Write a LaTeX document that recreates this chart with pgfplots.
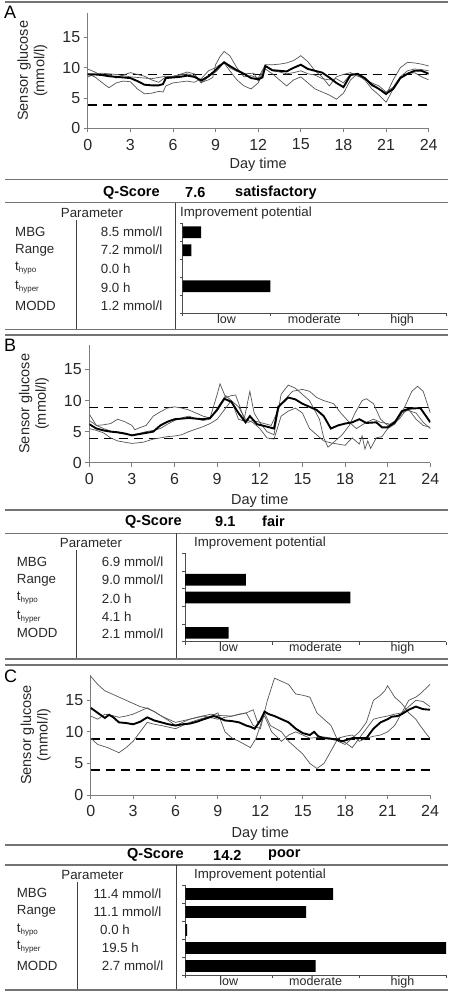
\documentclass[border=0pt]{standalone}
\usepackage{fontspec}
\setmainfont{Liberation Sans}
\usepackage{pgfplots}
\pgfplotsset{compat=1.18}
\definecolor{sepgray}{RGB}{115,115,115}
\definecolor{axgray}{RGB}{125,125,125}
\definecolor{linegray}{RGB}{85,85,85}
\definecolor{txt}{RGB}{40,40,40}
\pgfplotsset{
  glucose/.style={
    scale only axis, width=341pt,
    xmin=0, xmax=24, ymin=0, ymax=19,
    xtick={0,3,...,24}, ytick={0,5,10,15},
    axis x line*=bottom, axis y line*=left,
    axis line style={axgray, line width=0.9pt},
    tick style={axgray, line width=0.9pt},
    tick align=outside, major tick length=4pt,
    ticklabel style={font=\fontsize{16}{19}\selectfont, text=txt},
    xticklabel style={yshift=-3pt},
    /pgf/number format/assume math mode=true,
    xlabel={Day time}, ylabel={Sensor glucose\\(mmol/l)},
    label style={font=\fontsize{14.5}{16.5}\selectfont, text=txt},
    xlabel style={at={(axis description cs:0.5,-0.32)}, anchor=center},
    ylabel style={at={(axis description cs:-0.108,0.5)}, anchor=south, align=center},
  },
  thin/.style={linegray, line width=0.7pt},
  mean/.style={black, line width=1.9pt},
  lim/.style={black, line width=1.8pt, dash pattern=on 9pt off 6pt},
  qbar/.style={
    scale only axis,
    xmin=0, xmax=3, ymin=0, ymax=5,
    axis x line*=bottom, axis y line*=left,
    axis line style={black!70, line width=0.7pt},
    tick style={black!70, line width=0.7pt},
    tick align=outside, major tick length=3pt,
    xtick={0,1,2,3}, xticklabels={},
    ytick={0,1,2,3,4,5}, yticklabels={},
    extra x ticks={0.5,1.5,2.5},
    extra x tick labels={low,moderate,high},
    extra x tick style={major tick length=0pt, tick style={draw=none},
      xticklabel style={font=\fontsize{12.5}{14}\selectfont, text=txt, inner sep=1pt}},
  },
  hb/.style={xbar, fill=black, draw=none, bar width=11.7pt},
}
\newcommand\tsub[1]{t\raisebox{-2.2pt}{\fontsize{8}{9}\selectfont #1}}
\begin{document}
\begin{tikzpicture}[x=1pt,y=1pt,
  tb/.style={font=\fontsize{13.3}{15}\selectfont, text=txt, anchor=west, inner sep=0pt},
  qs/.style={font=\fontsize{14.5}{17}\selectfont\bfseries, text=black, anchor=west, inner sep=0pt},
  let/.style={font=\fontsize{18}{20}\selectfont, text=black, anchor=west, inner sep=0pt},
  sep/.style={sepgray, line width=1.5pt},
  vsep/.style={black!75, line width=0.8pt}]
\useasboundingbox (0,0) rectangle (450,-992);

% ================= Panel A =================
\draw[sep] (5,-2) -- (448,-2);
\node[let] at (4,-12.5) {A};
\begin{axis}[glucose, height=115pt, at={(87.7pt,-128.3pt)}, anchor=south west]
\addplot[lim] coordinates {(0,8.9)(24,8.9)};
\addplot[lim] coordinates {(0,3.9)(24,3.9)};
\addplot[thin] coordinates {(0,9.8)(0.5,9.3)(1,8.7)(1.5,8.9)(2,8.3)(2.5,8.8)(3,9.2)(3.5,8.9)(4,8.6)(4.5,8.0)(5,7.6)(5.5,8.5)(6,8.6)(6.5,8.9)(7,9.3)(7.5,9.0)(8,7.6)(8.5,8.0)(8.8,8.4)(9,10.5)(9.3,11.8)(9.6,12.7)(10,12.0)(10.5,10.0)(11,8.5)(11.5,8.7)(12,8.3)(12.5,10.5)(13,10.5)(13.5,10.6)(14,10.8)(14.5,11.2)(15,12.0)(15.5,11.0)(16,9.5)(16.5,8.5)(17,7.0)(17.5,8.5)(18,8.9)(18.5,9.2)(19,8.6)(19.5,8.2)(20,7.0)(20.5,6.5)(21,5.5)(21.5,8.0)(22,10.0)(22.5,10.9)(23,10.8)(23.5,10.6)(24,10.3)};
\addplot[thin] coordinates {(0,9.0)(0.5,8.5)(1.2,7.2)(1.5,6.7)(2,7.5)(2.5,7.8)(3,7.7)(3.5,6.5)(4,5.7)(4.5,5.8)(5,6.1)(5.3,6.0)(5.5,7.0)(6,7.5)(7,7.8)(7.5,7.6)(8,8.2)(8.5,9.5)(9,10.0)(9.3,10.5)(9.6,10.8)(10,9.5)(10.5,8.0)(11,7.0)(11.5,6.5)(12,7.5)(12.5,9.8)(13,9.0)(13.5,8.0)(14,7.0)(14.5,8.0)(15,8.5)(15.5,7.5)(16,6.5)(16.5,6.0)(17,5.5)(17.5,4.8)(18,5.8)(18.5,8.0)(19,9.0)(19.5,8.0)(20,6.5)(20.5,5.5)(21,4.3)(21.5,6.5)(22,8.2)(22.5,9.0)(23,9.2)(23.5,8.5)(24,8.0)};
\addplot[thin] coordinates {(0,8.5)(0.5,8.9)(1,9.1)(1.5,9.0)(2,8.9)(2.5,8.7)(3,8.5)(3.5,8.4)(4,8.3)(4.5,8.2)(5,8.4)(5.5,8.6)(6,8.5)(6.5,8.8)(7,9.0)(7.5,8.7)(8,7.5)(8.5,8.5)(9,9.3)(9.3,10.0)(9.6,11.0)(10,10.0)(10.5,9.4)(11,9.0)(11.7,9.1)(12,7.8)(12.5,10.3)(13,9.5)(13.5,9.3)(14,9.0)(14.5,9.2)(15,9.5)(15.5,9.0)(16,8.8)(16.5,8.2)(17,8.0)(17.5,8.2)(18,7.5)(18.5,9.0)(19,8.8)(19.5,8.0)(20,7.5)(20.5,7.0)(21,6.0)(21.5,6.8)(22,8.5)(22.5,9.5)(23,9.8)(23.5,9.7)(24,9.5)};
\addplot[mean] coordinates {(0,8.9)(0.5,8.9)(1,8.8)(1.5,8.6)(2,8.5)(2.5,8.4)(3,8.3)(3.5,7.8)(4,7.2)(4.5,7.1)(5,7.1)(5.3,7.3)(5.5,8.3)(6,8.4)(6.5,8.5)(7,8.7)(7.5,8.5)(8,7.9)(8.5,8.6)(9,9.6)(9.3,10.3)(9.6,10.9)(10,10.3)(10.5,9.6)(11,9.0)(11.5,8.3)(12,8.1)(12.3,8.4)(12.5,10.3)(13,9.6)(13.5,9.5)(14,9.4)(14.5,10.0)(15,10.5)(15.5,9.8)(16,9.5)(16.5,9.2)(17,8.4)(17.5,7.5)(18,6.8)(18.5,8.8)(19,9.0)(19.5,8.3)(20,7.2)(20.5,6.5)(21,5.7)(21.5,6.5)(22,8.3)(22.5,9.0)(23,9.5)(23.5,9.5)(24,9.0)};
\end{axis}
\draw[sep] (5,-179.3) -- (448,-179.3);
\node[qs] at (103,-192.7) {Q-Score};
\node[qs] at (185,-192.7) {7.6};
\node[qs] at (235,-192.7) {satisfactory};
\draw[sep] (5,-202.7) -- (448,-202.7);
\node[tb, anchor=center] at (92,-213.3) {Parameter};
\node[tb] at (180,-213.3) {Improvement potential};
\draw[vsep] (175.7,-202.7) -- (175.7,-329.3);
\draw[vsep] (76,-220) -- (76,-329.3);
\node[tb] at (15,-231.7) {MBG};
\node[tb] at (15,-250) {Range};
\node[tb] at (15,-268.3) {\tsub{hypo}};
\node[tb] at (15,-287.3) {\tsub{hyper}};
\node[tb] at (15,-306) {MODD};
\node[tb] at (100.7,-231.7) {8.5 mmol/l};
\node[tb] at (100.7,-250) {7.2 mmol/l};
\node[tb] at (100.7,-268.3) {0.0 h};
\node[tb] at (100.7,-287.3) {9.0 h};
\node[tb] at (100.7,-306) {1.2 mmol/l};
\begin{axis}[qbar, width=263.3pt, height=90pt, at={(182.7pt,-313.3pt)}, anchor=south west]
\addplot[hb] coordinates {(0.21,4.5)(0.10,3.5)(1.0,1.5)};
\end{axis}
\draw[sep] (5,-329.3) -- (448,-329.3);

% ================= Panel B =================
\draw[sep] (5,-335) -- (448,-335);
\node[let] at (4,-345.5) {B};
\begin{axis}[glucose, height=118pt, at={(89.3pt,-462.7pt)}, anchor=south west]
\addplot[lim] coordinates {(0,8.9)(24,8.9)};
\addplot[lim] coordinates {(0,3.9)(24,3.9)};
\addplot[thin] coordinates {(0,7.8)(0.5,6.0)(1,6.1)(1.5,6.3)(2,7.0)(2.5,6.6)(3,6.0)(3.2,5.3)(3.5,5.6)(4,6.0)(4.5,7.5)(5,8.2)(5.5,8.8)(6,9.0)(6.5,8.8)(7,8.5)(7.5,8.0)(8,7.5)(8.5,7.2)(9,11.0)(9.2,12.7)(9.6,10.5)(10,10.8)(10.3,10.9)(10.6,9.0)(10.9,7.0)(11.3,11.5)(11.6,8.0)(12,6.5)(12.5,5.0)(13,4.5)(13.5,11.0)(14,12.5)(14.5,12.0)(15,11.0)(15.5,10.0)(16.2,7.0)(16.5,4.0)(16.8,2.5)(17.3,3.5)(17.8,4.5)(18.3,6.0)(18.7,8.0)(19.2,10.0)(19.5,10.3)(20,9.5)(20.5,7.0)(21,6.0)(21.7,7.0)(22.2,9.0)(22.7,11.5)(23.1,12.3)(23.5,11.5)(24,8.0)};
\addplot[thin] coordinates {(0,5.5)(0.5,5.2)(1,4.8)(1.5,4.0)(2,3.5)(2.5,3.3)(3,3.1)(3.8,3.3)(4.5,3.8)(5,4.0)(5.5,4.2)(6,4.3)(6.5,4.5)(7,5.0)(7.5,5.4)(8,5.8)(8.5,6.3)(9,7.0)(9.5,8.5)(10,10.0)(10.5,9.0)(11,7.0)(11.5,6.5)(12,5.5)(12.5,4.0)(13,3.8)(13.5,7.5)(14,8.3)(14.5,8.8)(15,8.0)(15.5,5.5)(16,4.5)(16.5,3.5)(17,3.2)(17.5,3.0)(18,2.8)(18.5,4.0)(19,3.0)(19.2,4.3)(19.4,2.2)(19.6,3.5)(19.8,2.3)(20.2,4.0)(20.6,4.2)(21,5.5)(21.5,6.2)(22,8.0)(22.5,8.5)(23,7.0)(23.5,6.0)(24,5.7)};
\addplot[thin] coordinates {(0,6.8)(0.5,6.0)(1,5.5)(1.5,5.1)(2,4.8)(2.5,4.6)(3,4.5)(3.5,4.7)(4,5.0)(4.5,5.2)(5,5.5)(5.5,6.2)(6,6.8)(6.5,7.2)(7,7.5)(7.5,7.1)(8,6.8)(8.5,7.0)(9.2,9.5)(9.6,10.8)(10,10.0)(10.5,7.0)(11.2,6.5)(11.5,6.8)(12,6.5)(12.8,6.0)(13.5,9.5)(14.3,11.5)(15,11.8)(15.5,11.5)(16,10.5)(16.5,10.0)(17.2,9.5)(17.7,8.0)(18.3,6.5)(18.8,5.5)(19.5,6.5)(20,7.0)(20.5,6.5)(21,6.3)(21.3,6.0)(21.8,7.0)(22.3,8.5)(23,8.0)(23.5,6.5)(24,5.5)};
\addplot[mean] coordinates {(0,6.2)(0.5,5.5)(1,5.2)(1.5,5.0)(2,4.9)(2.5,4.7)(3,4.4)(3.5,4.6)(4,4.8)(4.5,5.0)(5,6.0)(5.5,6.6)(6,7.0)(6.5,7.1)(7,7.2)(7.5,7.1)(8,7.0)(8.5,7.2)(9,8.5)(9.5,10.3)(10,9.8)(10.5,8.0)(11,6.5)(11.3,7.5)(11.8,6.2)(12.5,5.8)(13,5.5)(13.3,9.0)(14,10.5)(14.5,10.2)(15,9.5)(15.5,9.0)(16,8.5)(16.5,7.5)(17,5.5)(17.5,6.0)(18,6.3)(18.5,6.5)(19,7.0)(19.5,6.4)(20.2,6.5)(20.6,5.7)(21,5.7)(21.5,6.5)(22,8.3)(22.5,8.7)(23.3,8.8)(23.7,7.5)(24,6.5)};
\end{axis}
\draw[sep] (5,-510) -- (448,-510);
\node[qs] at (125,-521.7) {Q-Score};
\node[qs] at (215,-521.7) {9.1};
\node[qs] at (262,-521.7) {fair};
\draw[sep] (5,-533.3) -- (448,-533.3);
\node[tb, anchor=center] at (91,-543.3) {Parameter};
\node[tb] at (194,-543.3) {Improvement potential};
\draw[vsep] (176.7,-533.3) -- (176.7,-659);
\draw[vsep] (76.7,-550) -- (76.7,-659);
\node[tb] at (16.7,-561.7) {MBG};
\node[tb] at (16.7,-580) {Range};
\node[tb] at (16.7,-598.3) {\tsub{hypo}};
\node[tb] at (16.7,-616.7) {\tsub{hyper}};
\node[tb] at (16.7,-633.3) {MODD};
\node[tb] at (101.7,-561.7) {6.9 mmol/l};
\node[tb] at (101.7,-580) {9.0 mmol/l};
\node[tb] at (101.7,-598.3) {2.0 h};
\node[tb] at (101.7,-616.7) {4.1 h};
\node[tb] at (101.7,-633.3) {2.1 mmol/l};
\begin{axis}[qbar, width=261pt, height=88.4pt, at={(185pt,-641.7pt)}, anchor=south west]
\addplot[hb] coordinates {(0.70,3.5)(1.90,2.5)(0.50,0.5)};
\end{axis}
\draw[sep] (5,-659) -- (448,-659);

% ================= Panel C =================
\draw[sep] (5,-665) -- (448,-665);
\node[let] at (4,-676.5) {C};
\begin{axis}[glucose, height=120pt, at={(90.7pt,-795pt)}, anchor=south west, width=339.3pt]
\addplot[lim] coordinates {(0,8.9)(24,8.9)};
\addplot[lim] coordinates {(0,3.9)(24,3.9)};
\addplot[thin] coordinates {(0,18.8)(0.5,17.5)(1,16.5)(1.5,16.0)(2,15.5)(2.5,15.0)(3,14.5)(3.5,14.0)(4,13.7)(4.5,13.2)(5,12.5)(5.5,12.0)(6,11.5)(7,12.0)(7.5,12.3)(8.5,12.8)(9,12.6)(10,12.5)(10.5,12.8)(11,13.0)(11.5,11.0)(12,10.5)(12.5,15.0)(13,18.5)(13.5,18.0)(14,17.5)(14.5,16.0)(15,15.8)(15.5,15.5)(16,13.0)(16.5,12.0)(17,11.0)(17.5,8.5)(18,8.0)(18.5,9.0)(19,10.0)(19.5,11.5)(20,15.0)(20.5,15.8)(20.8,16.5)(21,17.3)(21.5,15.5)(22,14.5)(22.5,13.0)(23,12.0)(23.3,11.0)(23.8,9.5)(24,9.0)};
\addplot[thin] coordinates {(0,9.0)(0.5,8.0)(1.2,7.5)(2,6.7)(2.5,7.5)(3,8.5)(3.5,10.0)(4,11.5)(4.5,11.2)(5,11.0)(6,10.5)(6.5,11.0)(7,11.5)(8,12.2)(8.5,12.5)(9,13.0)(9.5,10.0)(10,9.0)(10.5,8.5)(11.3,7.5)(11.7,9.0)(12.3,13.0)(12.7,11.0)(13.5,10.0)(14,8.5)(14.5,7.5)(15,6.5)(15.5,5.0)(16,4.2)(16.5,5.0)(17,7.0)(17.5,9.0)(18,9.3)(18.5,9.5)(19,8.5)(19.5,9.0)(20,9.3)(20.5,9.5)(21,10.0)(21.5,11.0)(22,13.0)(22.5,15.0)(23,15.5)(23.3,16.0)(24,17.5)};
\addplot[thin] coordinates {(0,12.5)(0.5,12.0)(1,12.8)(1.5,12.6)(2,12.3)(2.5,12.5)(3,12.8)(3.5,13.3)(4,13.8)(4.5,13.2)(5,12.5)(5.5,11.8)(6,11.0)(6.5,11.5)(7,12.0)(8,12.5)(9,12.0)(9.5,12.3)(10,12.5)(11,13.0)(11.5,13.5)(11.8,11.5)(12.3,12.5)(12.8,10.0)(13.5,8.5)(14,9.5)(14.5,10.0)(15,9.5)(15.5,9.0)(16,9.1)(16.5,9.2)(17,9.0)(17.5,8.8)(18,8.3)(18.5,7.5)(19,9.0)(19.5,10.5)(20,12.0)(20.5,12.3)(21,12.5)(21.5,12.8)(22,13.0)(22.5,14.0)(23,15.0)(23.5,14.8)(24,14.0)};
\addplot[mean] coordinates {(0,13.8)(0.5,13.0)(1,12.2)(1.3,12.7)(1.6,12.3)(2,11.5)(2.5,11.4)(3,11.2)(3.5,11.6)(4,12.3)(4.5,11.8)(5,11.5)(5.5,11.2)(6,11.0)(6.5,11.2)(7,11.3)(7.5,11.6)(8,12.0)(8.7,12.5)(9,12.3)(9.5,11.8)(10,11.7)(10.5,11.5)(11,11.0)(11.3,10.8)(11.6,10.5)(12,11.8)(12.3,13.2)(12.6,12.8)(13,12.5)(13.5,12.0)(14,11.5)(14.5,10.5)(15,9.8)(15.5,9.5)(15.8,10.0)(16.1,9.3)(16.5,9.0)(17,8.9)(17.3,8.8)(17.8,8.5)(18.2,8.8)(18.5,9.0)(19,9.0)(19.5,9.0)(20,10.5)(20.5,11.5)(21,12.0)(21.3,12.4)(21.7,12.5)(22,12.8)(22.5,13.5)(23,14.0)(23.5,13.6)(24,13.5)};
\end{axis}
\draw[sep] (5,-845) -- (448,-845);
\node[qs] at (127,-855) {Q-Score};
\node[qs] at (213,-855) {14.2};
\node[qs] at (268,-855) {poor};
\draw[sep] (5,-865) -- (448,-865);
\node[tb, anchor=center] at (92.5,-875) {Parameter};
\node[tb] at (194,-875) {Improvement potential};
\draw[vsep] (176.7,-865) -- (176.7,-990);
\draw[vsep] (77.3,-882) -- (77.3,-990);
\node[tb] at (16.7,-893.3) {MBG};
\node[tb] at (16.7,-911.7) {Range};
\node[tb] at (16.7,-930) {\tsub{hypo}};
\node[tb] at (16.7,-947.3) {\tsub{hyper}};
\node[tb] at (16.7,-966) {MODD};
\node[tb] at (93.3,-893.3) {11.4 mmol/l};
\node[tb] at (93.3,-911.7) {11.1 mmol/l};
\node[tb] at (100,-930) {0.0 h};
\node[tb] at (101.7,-947.3) {19.5 h};
\node[tb] at (101.7,-966) {2.7 mmol/l};
\begin{axis}[qbar, width=260.7pt, height=90pt, at={(185.3pt,-975pt)}, anchor=south west]
\addplot[hb] coordinates {(1.70,4.5)(1.39,3.5)(0.02,2.5)(3.0,1.5)(1.50,0.5)};
\end{axis}
\draw[sep] (5,-990) -- (448,-990);
\end{tikzpicture}
\end{document}
